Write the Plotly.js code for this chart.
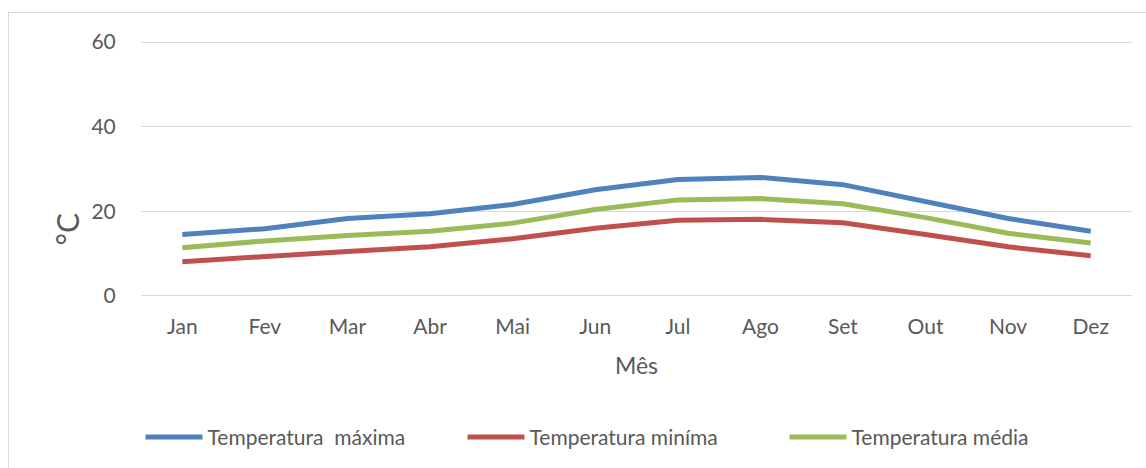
<!DOCTYPE html>
<html>
<head>
<meta charset="utf-8">
<script src="https://cdn.plot.ly/plotly-3.0.1.min.js"></script>
<style>
  html, body { margin: 0; padding: 0; background: #fff; }
  #chart { width: 1146px; height: 468px; }
  #frame { position: absolute; left: 8px; top: 12px; width: 1150px; height: 470px; border: 1px solid #D9D9D9; pointer-events: none; }
</style>
</head>
<body>
<div id="chart"></div>
<div id="frame"></div>
<script>
const months = ["Jan", "Fev", "Mar", "Abr", "Mai", "Jun", "Jul", "Ago", "Set", "Out", "Nov", "Dez"];
const tempMax = [14.5, 15.9, 18.3, 19.4, 21.6, 25.1, 27.5, 28.0, 26.3, 22.4, 18.3, 15.3];
const tempMin = [8.1, 9.4, 10.5, 11.6, 13.5, 16.0, 17.9, 18.1, 17.3, 14.5, 11.6, 9.5];
const tempMed = [11.4, 13.0, 14.3, 15.3, 17.2, 20.4, 22.7, 23.0, 21.8, 18.5, 14.8, 12.5];
const yTicks = [0, 20, 40, 60];

const font = "Lato, 'Open Sans', sans-serif";
const grey = "#595959";

const traces = [
  { x: months, y: tempMax, name: "Temperatura\u00a0 máxima", type: "scatter", mode: "lines",
    line: { color: "#4F81BD", width: 5 } },
  { x: months, y: tempMin, name: "Temperatura miníma", type: "scatter", mode: "lines",
    line: { color: "#C0504D", width: 5 } },
  { x: months, y: tempMed, name: "Temperatura média", type: "scatter", mode: "lines",
    line: { color: "#9BBB59", width: 5 } }
];

// y range padded by 0.5 so the 0 and 60 gridlines are drawn inside the plot area
const layout = {
  width: 1146, height: 468,
  margin: { l: 141, r: 14, t: 39.9, b: 169.2 },
  paper_bgcolor: "#fff", plot_bgcolor: "#fff",
  font: { family: font, color: grey, size: 21 },
  showlegend: true,
  xaxis: {
    type: "category", range: [-0.5, 11.5],
    showgrid: false, zeroline: false, showline: false,
    ticks: "outside", ticklen: 10, tickcolor: "rgba(0,0,0,0)",
    tickfont: { size: 21, color: grey, family: font },
    title: { text: "Mês", font: { size: 23, color: grey, family: font }, standoff: 20 },
    fixedrange: true
  },
  yaxis: {
    range: [-0.5, 60.5], tickvals: yTicks,
    showgrid: true, gridcolor: "#D9D9D9", gridwidth: 1,
    zeroline: false, showline: false,
    ticks: "outside", ticklen: 20, tickcolor: "rgba(0,0,0,0)",
    tickfont: { size: 21, color: grey, family: font },
    fixedrange: true
  },
  annotations: [
    { text: "°C", xref: "paper", yref: "paper",
      x: (67 - 141) / 991, y: (298.8 - 230) / 258.9,
      xanchor: "center", yanchor: "middle", textangle: -90, showarrow: false,
      font: { size: 30, color: grey, family: font } }
  ],
  legend: {
    orientation: "h", x: 0.5 - 13 / 991, xanchor: "center", y: (298.8 - 437) / 258.9, yanchor: "middle",
    font: { size: 21, color: grey, family: font },
    itemwidth: 57, entrywidth: 250, traceorder: "normal", bgcolor: "rgba(0,0,0,0)"
  }
};

Plotly.newPlot("chart", traces, layout, { displayModeBar: false, staticPlot: true });
</script>
</body>
</html>
